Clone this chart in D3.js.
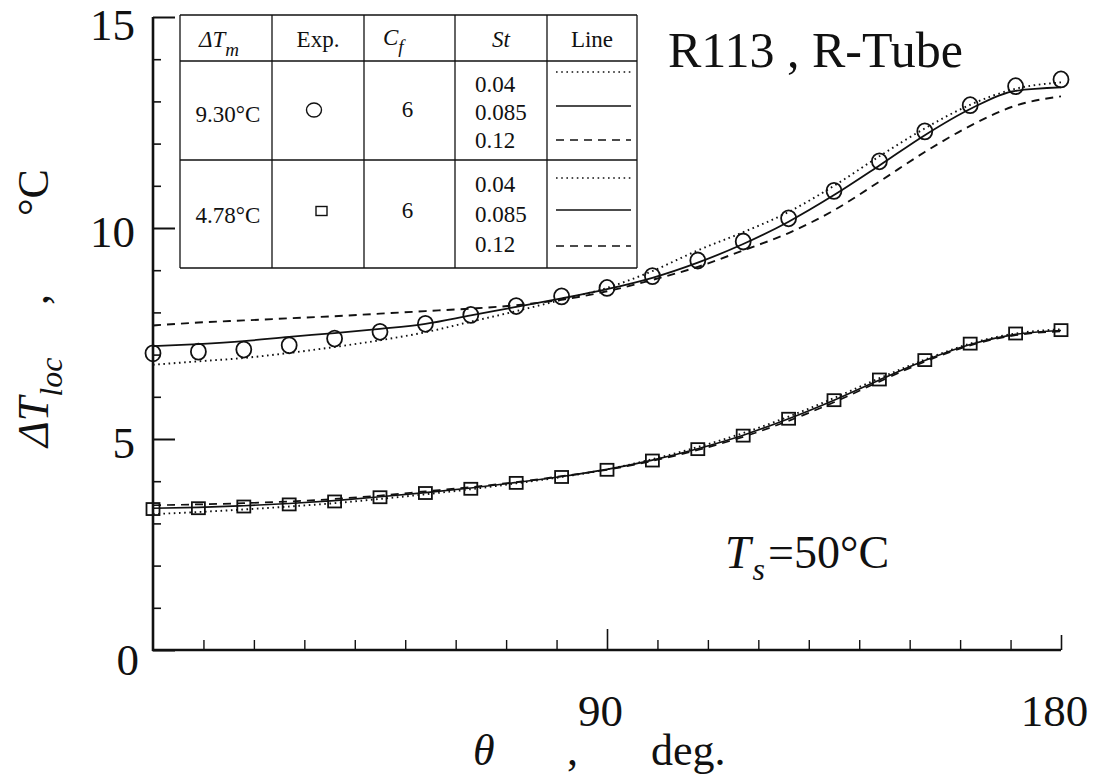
<!DOCTYPE html>
<html>
<head>
<meta charset="utf-8">
<script src="https://cdn.jsdelivr.net/npm/d3@7"></script>
<style>
  html, body { margin: 0; padding: 0; background: #fff; }
  svg { display: block; }
  svg text { font-family: 'Liberation Serif', 'Times New Roman', Times, Tinos, 'Noto Serif', 'DejaVu Serif', 'FreeSerif', serif; fill: #111; }
</style>
</head>
<body>
<svg id="chart" width="1096" height="778"></svg>
<script>
// ---------------- data ----------------
const theta = [0, 9, 18, 27, 36, 45, 54, 63, 72, 81, 90, 99, 108, 117, 126, 135, 144, 153, 162, 171, 180];

// ΔTm = 9.30°C (circles)
const expCircle = [7.03, 7.07, 7.12, 7.22, 7.38, 7.54, 7.73, 7.94, 8.15, 8.38, 8.58, 8.86, 9.23, 9.68, 10.23, 10.88, 11.58, 12.29, 12.91, 13.36, 13.52];
const hiSt004  = [6.76, 6.84, 6.92, 7.04, 7.18, 7.34, 7.53, 7.78, 8.03, 8.30, 8.58, 8.98, 9.47, 9.90, 10.38, 11.00, 11.70, 12.36, 12.92, 13.30, 13.45];
const hiSt0085 = [7.20, 7.25, 7.32, 7.42, 7.51, 7.61, 7.73, 7.93, 8.13, 8.33, 8.55, 8.82, 9.18, 9.62, 10.15, 10.78, 11.48, 12.20, 12.82, 13.25, 13.33];
const hiSt012  = [7.69, 7.76, 7.81, 7.86, 7.91, 7.97, 8.03, 8.09, 8.17, 8.30, 8.50, 8.77, 9.08, 9.47, 9.88, 10.42, 11.10, 11.80, 12.42, 12.90, 13.12];

// ΔTm = 4.78°C (squares)
const expSquare = [3.34, 3.36, 3.40, 3.45, 3.52, 3.62, 3.72, 3.82, 3.96, 4.10, 4.27, 4.49, 4.76, 5.08, 5.48, 5.92, 6.41, 6.87, 7.26, 7.50, 7.58];
const loSt004  = [3.22, 3.27, 3.33, 3.40, 3.48, 3.58, 3.69, 3.81, 3.95, 4.10, 4.28, 4.52, 4.81, 5.14, 5.53, 5.97, 6.44, 6.88, 7.26, 7.50, 7.60];
const loSt0085 = [3.36, 3.38, 3.42, 3.47, 3.54, 3.63, 3.73, 3.84, 3.97, 4.11, 4.28, 4.50, 4.77, 5.09, 5.48, 5.92, 6.40, 6.86, 7.24, 7.48, 7.57];
const loSt012  = [3.43, 3.45, 3.48, 3.52, 3.58, 3.66, 3.76, 3.86, 3.98, 4.12, 4.27, 4.48, 4.74, 5.05, 5.43, 5.87, 6.36, 6.83, 7.22, 7.46, 7.55];

const yMajorTicks = [0, 5, 10, 15];
const yMinorTicks = [1, 2, 3, 4, 6, 7, 8, 9, 11, 12, 13, 14];
const xMajorTicks = [90, 180];
const xMinorTicks = [10, 20, 30, 40, 50, 60, 70, 80, 100, 110, 120, 130, 140, 150, 160, 170];

const tableRows = [
  { dTm: "9.30°C", marker: "circle", cf: "6", st: ["0.04", "0.085", "0.12"] },
  { dTm: "4.78°C", marker: "square", cf: "6", st: ["0.04", "0.085", "0.12"] }
];

// ---------------- layout ----------------
const SERIF = "'Liberation Serif', 'Times New Roman', Times, Tinos, 'Noto Serif', 'DejaVu Serif', FreeSerif, serif";
const svg = d3.select("#chart").attr("font-family", SERIF);
const x = d3.scaleLinear().domain([0, 180]).range([153, 1061]);
const y = d3.scaleLinear().domain([0, 15]).range([650, 17]);

const styles = {
  dotted: "1.6,3.6",
  solid: null,
  dashed: "8,6"
};

// ---------------- axes ----------------
const gy = svg.append("g").attr("transform", `translate(${x(0)},0)`);
gy.call(d3.axisLeft(y).tickValues(yMajorTicks).tickSizeInner(-22).tickSizeOuter(0).tickPadding(18)
  .tickFormat(d3.format("d")));
gy.attr("font-family", SERIF);
gy.select(".domain").remove();
gy.selectAll(".tick line").attr("stroke", "#111").attr("stroke-width", 2);
gy.selectAll(".tick text").attr("font-size", 45).attr("dy", "0.42em").attr("fill", "#111");
gy.selectAll(".tick").filter(d => d === 15).select("text").attr("dy", "0.5em");
gy.selectAll(".tick").filter(d => d === 0).select("text").attr("dx", 4).attr("dy", "0.55em");

const gyMinor = svg.append("g").attr("transform", `translate(${x(0)},0)`);
gyMinor.call(d3.axisLeft(y).tickValues(yMinorTicks).tickSizeInner(-8).tickSizeOuter(0).tickFormat(""));
gyMinor.select(".domain").remove();
gyMinor.selectAll(".tick line").attr("stroke", "#111").attr("stroke-width", 1.6);

const gx = svg.append("g").attr("transform", `translate(0,${y(0)})`);
gx.call(d3.axisBottom(x).tickValues(xMajorTicks).tickSizeInner(-20).tickSizeOuter(0).tickPadding(44)
  .tickFormat(d3.format("d")));
gx.attr("font-family", SERIF);
gx.select(".domain").remove();
gx.selectAll(".tick line").attr("stroke", "#111").attr("stroke-width", 1.6)
  .attr("y2", d => d === 180 ? -15 : -21);
gx.selectAll(".tick text").attr("font-size", 45).attr("dx", -7).attr("fill", "#111");

const gxMinor = svg.append("g").attr("transform", `translate(0,${y(0)})`);
gxMinor.call(d3.axisBottom(x).tickValues(xMinorTicks).tickSizeInner(-10).tickSizeOuter(0).tickFormat(""));
gxMinor.select(".domain").remove();
gxMinor.selectAll(".tick line").attr("stroke", "#111").attr("stroke-width", 1.4);

// axis lines
svg.append("line").attr("x1", x(0)).attr("x2", x(0)).attr("y1", y(15)).attr("y2", y(0) + 1)
  .attr("stroke", "#111").attr("stroke-width", 2.6);
svg.append("line").attr("x1", x(0) - 1).attr("x2", x(180)).attr("y1", y(0)).attr("y2", y(0))
  .attr("stroke", "#111").attr("stroke-width", 2.4);

// ---------------- curves ----------------
const line = d3.line().x((d, i) => x(theta[i])).y(d => y(d)).curve(d3.curveMonotoneX);
const series = [
  { v: hiSt004, s: "dotted", w: 1.9 },
  { v: hiSt0085, s: "solid", w: 1.8 },
  { v: hiSt012, s: "dashed", w: 1.9 },
  { v: loSt004, s: "dotted", w: 1.9 },
  { v: loSt0085, s: "solid", w: 1.6 },
  { v: loSt012, s: "dashed", w: 1.7 }
];
svg.append("g").selectAll("path").data(series).join("path")
  .attr("d", d => line(d.v))
  .attr("fill", "none").attr("stroke", "#111")
  .attr("stroke-width", d => d.w)
  .attr("stroke-dasharray", d => styles[d.s]);

// markers
svg.append("g").selectAll("ellipse").data(expCircle).join("ellipse")
  .attr("cx", (d, i) => x(theta[i])).attr("cy", d => y(d))
  .attr("rx", 7.5).attr("ry", 8)
  .attr("fill", "none").attr("stroke", "#111").attr("stroke-width", 1.8);

svg.append("g").selectAll("rect").data(expSquare).join("rect")
  .attr("x", (d, i) => x(theta[i]) - 6.5).attr("y", d => y(d) - 6)
  .attr("width", 13).attr("height", 12)
  .attr("fill", "none").attr("stroke", "#111").attr("stroke-width", 1.8);

// ---------------- annotations ----------------
svg.append("text").attr("x", 668).attr("y", 67).attr("font-size", 50).text("R113 , R-Tube");

const ts = svg.append("text").attr("x", 725).attr("y", 568).attr("font-size", 46);
ts.append("tspan").attr("font-style", "italic").text("T");
ts.append("tspan").attr("font-style", "italic").attr("font-size", 32).attr("dy", 12).attr("dx", 2).text("s");
ts.append("tspan").attr("dy", -12).attr("dx", 3).text("=50°C");

// x label
const xl = svg.append("g");
xl.append("text").attr("x", 473).attr("y", 765).attr("font-size", 44).attr("font-style", "italic").text("θ");
xl.append("text").attr("x", 567).attr("y", 765).attr("font-size", 44).text(",");
xl.append("text").attr("x", 651).attr("y", 765).attr("font-size", 44).text("deg.");

// y label (rotated)
const yl1 = svg.append("text").attr("transform", "translate(48,447) rotate(-90)").attr("font-size", 44);
yl1.append("tspan").attr("font-style", "italic").text("ΔT");
yl1.append("tspan").attr("font-style", "italic").attr("font-size", 32).attr("dy", 14).text("loc");
svg.append("text").attr("transform", "translate(48,305) rotate(-90)").attr("font-size", 44).text(",");
svg.append("text").attr("transform", "translate(48,216) rotate(-90)").attr("font-size", 44).text("°C");

// ---------------- table legend ----------------
const tbl = svg.append("g");
const colX = [180, 272, 364, 455, 547, 637];
const rowY = [15, 61, 160, 268];
const colC = colX.slice(0, -1).map((v, i) => (v + colX[i + 1]) / 2);
colX.forEach(cx => tbl.append("line").attr("x1", cx).attr("x2", cx).attr("y1", rowY[0]).attr("y2", rowY[3])
  .attr("stroke", "#111").attr("stroke-width", 1.3));
rowY.forEach(ry => tbl.append("line").attr("x1", colX[0]).attr("x2", colX[5]).attr("y1", ry).attr("y2", ry)
  .attr("stroke", "#111").attr("stroke-width", 1.3));

const fs = 23;
// header
const h1 = tbl.append("text").attr("x", 199).attr("y", 47).attr("font-size", fs).attr("font-style", "italic");
h1.append("tspan").text("ΔT");
h1.append("tspan").attr("font-size", 19).attr("dy", 9).text("m");
tbl.append("text").attr("x", colC[1]).attr("y", 47).attr("text-anchor", "middle").attr("font-size", fs).text("Exp.");
const h3 = tbl.append("text").attr("x", 383).attr("y", 45).attr("font-size", fs).attr("font-style", "italic");
h3.append("tspan").text("C");
h3.append("tspan").attr("font-size", 19).attr("dy", 8).text("f");
tbl.append("text").attr("x", colC[3]).attr("y", 47).attr("text-anchor", "middle").attr("font-size", fs).attr("font-style", "italic").text("St");
tbl.append("text").attr("x", colC[4]).attr("y", 47).attr("text-anchor", "middle").attr("font-size", fs).text("Line");

const rowMeta = [
  { base: 122, stBase: [92, 120, 148], lineY: [72, 106, 140], mY: 110 },
  { base: 223, stBase: [192, 222, 252], lineY: [178, 210, 246], mY: 211 }
];
tableRows.forEach((r, i) => {
  const m = rowMeta[i];
  tbl.append("text").attr("x", colC[0] + 2).attr("y", m.base).attr("text-anchor", "middle").attr("font-size", fs).text(r.dTm);
  if (r.marker === "circle") {
    tbl.append("ellipse").attr("cx", 314).attr("cy", m.mY).attr("rx", 7.5).attr("ry", 7)
      .attr("fill", "none").attr("stroke", "#111").attr("stroke-width", 1.4);
  } else {
    tbl.append("rect").attr("x", 316).attr("y", m.mY - 4.5).attr("width", 11).attr("height", 9)
      .attr("fill", "none").attr("stroke", "#111").attr("stroke-width", 1.4);
  }
  tbl.append("text").attr("x", colC[2] - 2).attr("y", m.base - 5).attr("text-anchor", "middle").attr("font-size", fs).text(r.cf);
  r.st.forEach((s, j) => {
    tbl.append("text").attr("x", 475).attr("y", m.stBase[j]).attr("font-size", fs).text(s);
  });
  ["dotted", "solid", "dashed"].forEach((s, j) => {
    tbl.append("line").attr("x1", 556).attr("x2", 631).attr("y1", m.lineY[j]).attr("y2", m.lineY[j])
      .attr("stroke", "#111").attr("stroke-width", 1.5).attr("stroke-dasharray", styles[s]);
  });
});
</script>
</body>
</html>
